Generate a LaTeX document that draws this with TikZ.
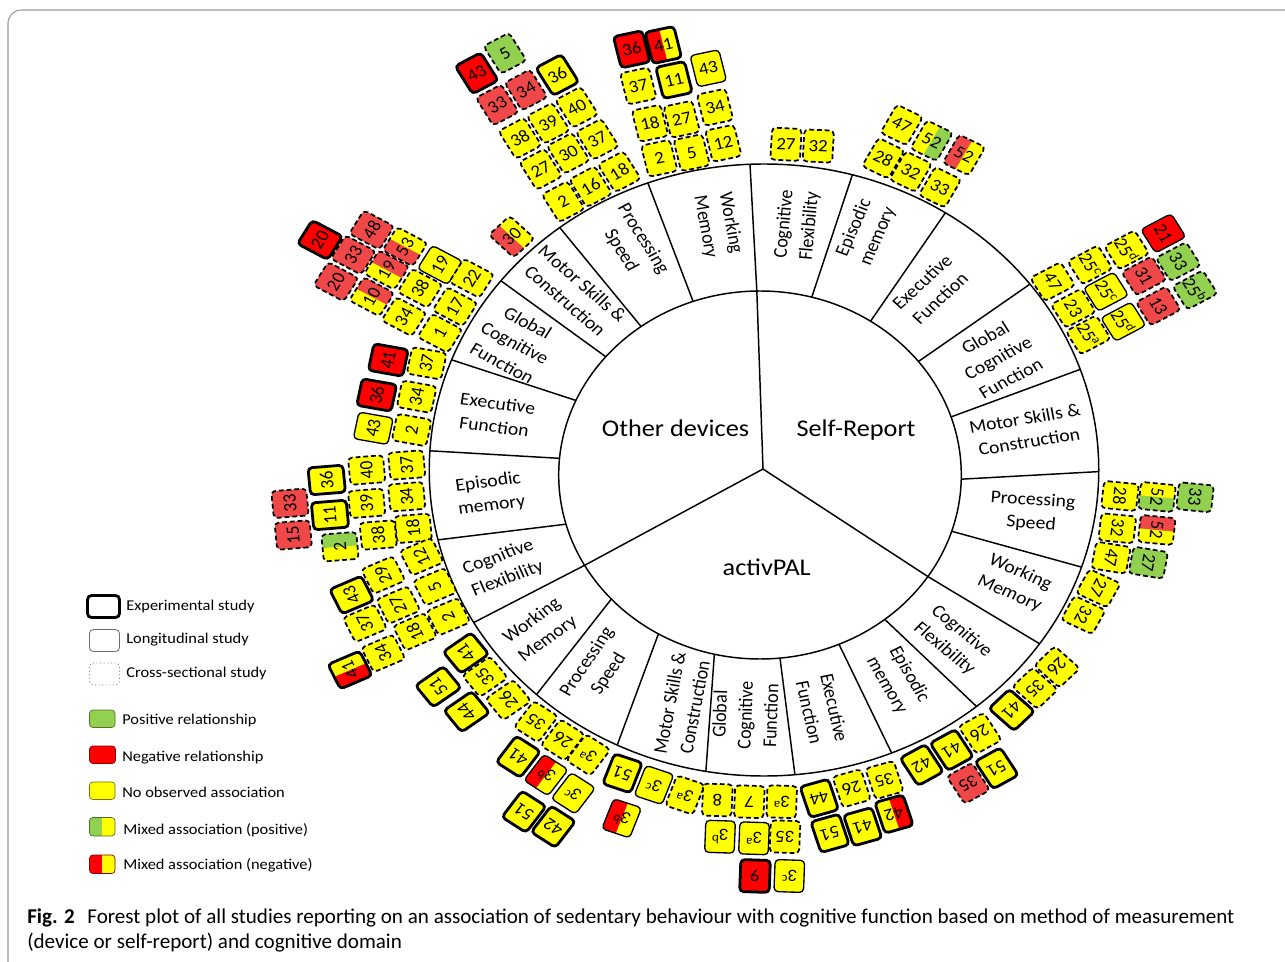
\documentclass[tikz,border=0pt]{standalone}
\usepackage{fontspec}
\setmainfont{Carlito}
\usetikzlibrary{calc}
\definecolor{yy}{HTML}{FFFF00}
\definecolor{rr}{HTML}{FF0000}
\definecolor{lr}{HTML}{F04848}
\definecolor{gg}{HTML}{92D050}
\definecolor{fr}{HTML}{9A9A9A}
\newcounter{bxn}
\newcounter{rln}
\tikzset{
 ex/.style={line width=2.1pt},
 lo/.style={line width=1pt},
 cs/.style={line width=1.3pt, dash pattern=on 3.6pt off 2.2pt},
 btext/.style={inner sep=0pt, font=\fontsize{13}{14}\selectfont, transform shape},
 rlab/.style={align=center, inner sep=0pt, font=\fontsize{13.5}{17.5}\selectfont, transform shape},
 clab/.style={inner sep=0pt, font=\fontsize{18}{20}\selectfont, transform shape},
 ltext/.style={anchor=base west, inner sep=0pt, font=\fontsize{11.25}{13}\selectfont, xscale=1.094, transform shape},
 captext/.style={anchor=base west, inner sep=0pt, font=\fontsize{15.8}{18}\selectfont},
 ring/.style={line width=1.1pt},
}
\newcommand\studybox[7]{%
 \stepcounter{bxn}%
 \begin{scope}[shift={({(#1-764)/1.094},{470-#2})},rotate=#3]
  \begin{scope}
   \clip[rounded corners=3pt] (-13.5,-16) rectangle (13.5,16);
   \fill[#5] (-14,-17) rectangle (0.6,17);
   \fill[#6] (0,-17) rectangle (14,17);
  \end{scope}
  \draw[#4,rounded corners=3pt] (-13.5,-16) rectangle (13.5,16);
  \node[btext] (box\arabic{bxn}) at (0,0) {#7};
 \end{scope}}
\newcommand\ringlabel[4]{%
 \stepcounter{rln}%
 \node[rlab, rotate=#3] (rl\arabic{rln}) at ({(#1-764)/1.094},{470-#2}) {#4};}
\newcommand\sps[2]{#1\textsuperscript{#2}}
\begin{document}
\begin{tikzpicture}[x=0.75pt,y=0.75pt]
\useasboundingbox (0,0) rectangle (1285,-962);
\fill[white] (0,0) rectangle (1285,-962);
% frame
\draw[fr, line width=0.8pt, rounded corners=10pt] (1300,-10) -- (8,-10) -- (8,-975);

\begin{scope}[shift={(764,-470)}, xscale=1.094, transform shape]
 % circles
 \coordinate (oc) at (0,0);
 \coordinate (ic) at (-3.66,-5);
 \coordinate (c0) at (-0.9,1);
 \draw[ring] (oc) circle (306);
 \draw[ring] (ic) circle (184);
 % ring lines
 \foreach \n/\ai/\ao in {a/90.9/92.4, b/75.1/74.7, c/56.7/57.2, d/38.1/37.4, e/18.4/19.2, f/-1.3/-0.3, g/-17.8/-18.5, h/-33.5/-34.6, i/-51.7/-50.6, j/-66.9/-67.6, k/-84.3/-84.7, l/256.9/260, m/239.7/244, n/222.4/227.2, o/209.4/209.9, p/195.5/193.2, q/174.8/176.4, r/156.1/158.9, s/140/141.8, t/126.2/127.6, u/109.4/110.3}{
  \coordinate (I\n) at ($(ic)+(\ai:184)$);
  \coordinate (O\n) at (\ao:306);
  \draw[ring] (I\n) -- (O\n);
 }
 \draw[ring] (c0) -- (Ia);
 \draw[ring] (c0) -- (Ih);
 \draw[ring] (c0) -- (Io);
 % centre labels
 \node[clab, anchor=base] (od) at ({(675.5-764)/1.094},{470-436}) {Other devices};
 \node[clab, anchor=base] (sr) at ({(856-764)/1.094},{470-436}) {Self-Report};
 \node[clab, anchor=base] (ap) at ({(766.7-764)/1.094},{470-575}) {activPAL};
 % ring labels: other devices
 \ringlabel{718}{225}{-80}{Working\\Memory}
 \ringlabel{632}{245}{-60}{Processing\\Speed}
 \ringlabel{574}{292}{-43}{Motor Skills \&\\Construction}
 \ringlabel{515}{343}{-30}{Global\\Cognitive\\Function}
 \ringlabel{496}{415}{-8}{Executive\\Function}
 \ringlabel{490}{494}{8}{Episodic\\memory}
 \ringlabel{503}{568}{22}{Cognitive\\Flexibility}
 % activPAL
 \ringlabel{540}{630}{38}{Working\\Memory}
 \ringlabel{598}{668}{58}{Processing\\Speed}
 \ringlabel{682}{705}{80}{Motor Skills \&\\Construction}
 \ringlabel{745}{715}{88}{Global\\Cognitive\\Function}
 \ringlabel{822}{710}{-78}{Executive\\Function}
 \ringlabel{898}{680}{-62}{Episodic\\memory}
 \ringlabel{953}{640}{-42}{Cognitive\\Flexibility}
 % self-report
 \ringlabel{1015}{583}{-25}{Working\\Memory}
 \ringlabel{1032}{512}{-4}{Processing\\Speed}
 \ringlabel{1027}{430}{10}{Motor Skills \&\\Construction}
 \ringlabel{998}{358}{30}{Global\\Cognitive\\Function}
 \ringlabel{931}{290}{45}{Executive\\Function}
 \ringlabel{866}{232}{68}{Episodic\\memory}
 \ringlabel{797}{225}{85}{Cognitive\\Flexibility}

 % ---- boxes: Other devices, Working Memory
 \studybox{631.7}{49.3}{13}{ex}{rr}{rr}{36}
 \studybox{663.3}{45}{13}{ex}{rr}{yy}{41}
 \studybox{638.3}{86}{13}{cs}{yy}{yy}{37}
 \studybox{674}{80}{13}{ex}{yy}{yy}{11}
 \studybox{708.3}{68.3}{13}{lo}{yy}{yy}{43}
 \studybox{650}{123.3}{13}{cs}{yy}{yy}{18}
 \studybox{681.7}{119.3}{13}{cs}{yy}{yy}{27}
 \studybox{715}{107.3}{13}{cs}{yy}{yy}{34}
 \studybox{659.3}{158.3}{13}{cs}{yy}{yy}{2}
 \studybox{691.7}{152.7}{13}{cs}{yy}{yy}{5}
 \studybox{723.3}{143.3}{13}{cs}{yy}{yy}{12}
 % Processing Speed
 \studybox{476.7}{73.3}{30}{ex}{rr}{rr}{43}
 \studybox{505}{53.3}{30}{cs}{gg}{gg}{5}
 \studybox{497.3}{105}{30}{cs}{lr}{lr}{33}
 \studybox{526}{90}{30}{cs}{lr}{lr}{34}
 \studybox{557.3}{75}{30}{ex}{yy}{yy}{36}
 \studybox{520}{138.3}{30}{cs}{yy}{yy}{38}
 \studybox{548.3}{123.3}{30}{cs}{yy}{yy}{39}
 \studybox{576.7}{107.3}{30}{cs}{yy}{yy}{40}
 \studybox{540.7}{169.3}{30}{cs}{yy}{yy}{27}
 \studybox{568.3}{153.3}{30}{cs}{yy}{yy}{30}
 \studybox{597.3}{139.3}{30}{cs}{yy}{yy}{37}
 \studybox{563.3}{201.7}{30}{cs}{yy}{yy}{2}
 \studybox{590.7}{186.7}{30}{cs}{yy}{yy}{16}
 \studybox{619.3}{171.7}{30}{cs}{yy}{yy}{18}
 % Motor skills
 \studybox{511.7}{236.7}{45}{cs}{lr}{yy}{30}
 % Global cognitive function
 \studybox{320}{240}{60}{ex}{rr}{rr}{20}
 \studybox{371.7}{230}{60}{cs}{lr}{lr}{48}
 \studybox{353.3}{255}{60}{cs}{lr}{lr}{33}
 \studybox{405}{246.7}{60}{cs}{lr}{yy}{53}
 \studybox{386.7}{270}{60}{cs}{yy}{lr}{19}
 \studybox{336}{281.7}{60}{cs}{lr}{lr}{20}
 \studybox{440}{265}{60}{lo}{yy}{yy}{19}
 \studybox{371.7}{296.7}{60}{cs}{yy}{lr}{10}
 \studybox{420}{288.3}{60}{cs}{yy}{yy}{38}
 \studybox{471.7}{278.3}{60}{cs}{yy}{yy}{22}
 \studybox{404}{316.7}{60}{cs}{yy}{yy}{34}
 \studybox{455}{306.7}{60}{cs}{yy}{yy}{17}
 \studybox{440}{333.3}{60}{cs}{yy}{yy}{1}
 % Executive function
 \studybox{388.3}{360}{79}{ex}{rr}{rr}{41}
 \studybox{426.7}{363.3}{79}{cs}{yy}{yy}{37}
 \studybox{376.7}{395}{79}{ex}{rr}{rr}{36}
 \studybox{416.7}{396.7}{79}{cs}{yy}{yy}{34}
 \studybox{373.3}{428.3}{79}{lo}{yy}{yy}{43}
 \studybox{411.7}{430}{79}{cs}{yy}{yy}{2}
 % Episodic memory
 \studybox{406.7}{465}{95}{cs}{yy}{yy}{37}
 \studybox{366.7}{470}{95}{cs}{yy}{yy}{40}
 \studybox{326.7}{480}{95}{ex}{yy}{yy}{36}
 \studybox{406.7}{496.7}{95}{cs}{yy}{yy}{34}
 \studybox{366.7}{503.3}{95}{cs}{yy}{yy}{39}
 \studybox{330}{515}{95}{ex}{yy}{yy}{11}
 \studybox{290}{503.3}{95}{cs}{lr}{lr}{33}
 \studybox{413.3}{528.3}{95}{cs}{yy}{yy}{18}
 \studybox{378.3}{535}{95}{cs}{yy}{yy}{38}
 \studybox{293.3}{535}{95}{cs}{lr}{lr}{15}
 \studybox{340}{546.7}{95}{cs}{yy}{gg}{2}
 % Cognitive flexibility
 \studybox{421.7}{556.7}{115}{cs}{yy}{yy}{12}
 \studybox{383.3}{575}{115}{cs}{yy}{yy}{29}
 \studybox{435}{586.7}{115}{cs}{yy}{yy}{5}
 \studybox{351.7}{595}{115}{ex}{yy}{yy}{43}
 \studybox{398.3}{605}{115}{cs}{yy}{yy}{27}
 \studybox{448.3}{616.7}{115}{cs}{yy}{yy}{2}
 \studybox{365}{623.3}{115}{cs}{yy}{yy}{37}
 \studybox{415}{631.7}{115}{cs}{yy}{yy}{18}
 \studybox{383.3}{653.3}{115}{cs}{yy}{yy}{34}
 \studybox{350}{670}{115}{ex}{rr}{yy}{41}
 % ---- activPAL, Working Memory
 \studybox{466}{653}{127}{ex}{yy}{yy}{41}
 \studybox{485}{676.7}{127}{cs}{yy}{yy}{35}
 \studybox{438.3}{686.7}{127}{ex}{yy}{yy}{51}
 \studybox{508.3}{700}{127}{cs}{yy}{yy}{26}
 \studybox{466.7}{711.7}{127}{ex}{yy}{yy}{44}
 % Processing speed
 \studybox{536}{721.7}{145}{cs}{yy}{yy}{35}
 \studybox{562.7}{740}{145}{cs}{yy}{yy}{26}
 \studybox{588.3}{755}{145}{cs}{yy}{yy}{\sps{3}{a}}
 \studybox{518.3}{756.7}{145}{ex}{yy}{yy}{41}
 \studybox{546}{775}{145}{lo}{yy}{rr}{\sps{3}{b}}
 \studybox{573.3}{793.3}{145}{lo}{yy}{yy}{\sps{3}{c}}
 \studybox{524}{811.7}{145}{ex}{yy}{yy}{51}
 \studybox{553.3}{826.7}{145}{ex}{yy}{yy}{42}
 % Motor skills
 \studybox{622.5}{773.3}{160}{ex}{yy}{yy}{51}
 \studybox{654}{785}{160}{lo}{yy}{yy}{\sps{3}{c}}
 \studybox{621.7}{818.3}{160}{lo}{yy}{rr}{\sps{3}{b}}
 \studybox{685}{795}{160}{cs}{yy}{yy}{\sps{3}{a}}
 % Global cognitive function
 \studybox{717.3}{800}{178}{cs}{yy}{yy}{8}
 \studybox{749.3}{801.7}{178}{cs}{yy}{yy}{7}
 \studybox{781.7}{801.7}{178}{cs}{yy}{yy}{\sps{3}{a}}
 \studybox{720}{836.7}{178}{lo}{yy}{yy}{\sps{3}{b}}
 \studybox{754}{838.3}{178}{lo}{yy}{yy}{\sps{3}{a}}
 \studybox{785}{836.7}{178}{cs}{yy}{yy}{35}
 \studybox{755}{876}{178}{ex}{rr}{rr}{9}
 \studybox{789.3}{876}{178}{lo}{yy}{yy}{\sps{3}{c}}
 % Executive function
 \studybox{819.3}{798.3}{197}{ex}{yy}{yy}{44}
 \studybox{851.7}{788.3}{197}{cs}{yy}{yy}{26}
 \studybox{884.5}{780}{197}{cs}{yy}{yy}{35}
 \studybox{830}{833.3}{197}{ex}{yy}{yy}{51}
 \studybox{862.7}{826.7}{197}{ex}{yy}{yy}{41}
 \studybox{894}{814}{197}{ex}{rr}{yy}{42}
 % Episodic memory
 \studybox{921.7}{765}{211}{ex}{yy}{yy}{42}
 \studybox{951.7}{750}{211}{ex}{yy}{yy}{41}
 \studybox{980}{733.3}{211}{cs}{yy}{yy}{26}
 \studybox{996.7}{768.3}{211}{ex}{yy}{yy}{51}
 \studybox{968.3}{783.3}{211}{cs}{lr}{lr}{35}
 % Cognitive flexibility
 \studybox{1011.7}{710}{226}{ex}{yy}{yy}{41}
 \studybox{1035}{688.3}{226}{cs}{yy}{yy}{35}
 \studybox{1057}{667}{226}{cs}{yy}{yy}{26}
 % ---- Self-report, Working Memory
 \studybox{1098.3}{588.3}{-117}{cs}{yy}{yy}{27}
 \studybox{1083.3}{615}{-117}{cs}{yy}{yy}{32}
 % Processing speed
 \studybox{1120}{496}{-96}{cs}{yy}{yy}{28}
 \studybox{1157}{497}{-96}{cs}{yy}{gg}{52}
 \studybox{1195}{497.3}{-96}{cs}{gg}{gg}{33}
 \studybox{1117.3}{528.3}{-96}{cs}{yy}{yy}{32}
 \studybox{1156.7}{530}{-96}{cs}{lr}{yy}{52}
 \studybox{1111}{557.7}{-100}{cs}{yy}{yy}{47}
 \studybox{1148.3}{562.7}{-100}{cs}{gg}{gg}{27}
 % Global cognitive function
 \studybox{1163.3}{233.3}{-60}{lo}{rr}{rr}{21}
 \studybox{1126.7}{250}{-60}{cs}{yy}{yy}{\sps{25}{d}}
 \studybox{1178.3}{261.7}{-60}{cs}{gg}{gg}{33}
 \studybox{1090}{265}{-60}{cs}{yy}{yy}{\sps{25}{c}}
 \studybox{1144}{276}{-60}{cs}{lr}{lr}{31}
 \studybox{1195}{290}{-60}{cs}{gg}{gg}{\sps{25}{b}}
 \studybox{1052.7}{281.7}{-60}{cs}{yy}{yy}{47}
 \studybox{1106}{291.7}{-60}{lo}{yy}{yy}{\sps{25}{c}}
 \studybox{1158.3}{306}{-60}{cs}{lr}{lr}{13}
 \studybox{1073.3}{308.3}{-60}{cs}{yy}{yy}{23}
 \studybox{1123.3}{321.7}{-60}{lo}{yy}{yy}{\sps{25}{d}}
 \studybox{1088.3}{335}{-60}{cs}{yy}{yy}{\sps{25}{a}}
 % Episodic memory
 \studybox{901.7}{125}{-28}{cs}{yy}{yy}{47}
 \studybox{931.7}{140.7}{-28}{cs}{yy}{gg}{52}
 \studybox{964}{155}{-28}{cs}{lr}{yy}{52}
 \studybox{883.3}{158.3}{-28}{cs}{yy}{yy}{28}
 \studybox{910.7}{171.7}{-28}{cs}{yy}{yy}{32}
 \studybox{940}{187.3}{-28}{cs}{yy}{yy}{33}
 % Cognitive flexibility
 \studybox{786}{144.3}{-3}{cs}{yy}{yy}{27}
 \studybox{818.3}{146}{-3}{cs}{yy}{yy}{32}
\end{scope}

% ---- legend
\draw[line width=2.1pt, rounded corners=3pt] (87.5,-595.5) rectangle (119.5,-617.5);
\draw[fr!70!black, line width=0.6pt, rounded corners=3pt] (89.5,-629.5) rectangle (119.5,-651.5);
\draw[fr!80!black, line width=0.7pt, dotted, rounded corners=3pt] (89.5,-663) rectangle (119.5,-685);
\filldraw[fill=gg, draw=gg!55!black, line width=0.5pt, rounded corners=2.5pt] (89.5,-710) rectangle (115,-727.5);
\filldraw[fill=rr, draw=rr!55!black, line width=0.5pt, rounded corners=2.5pt] (89.5,-746) rectangle (115.5,-763.5);
\filldraw[fill=yy, draw=yy!45!black, line width=0.5pt, rounded corners=2.5pt] (89.5,-782) rectangle (115,-799.5);
\begin{scope}
 \clip[rounded corners=2.5pt] (89.5,-817.5) rectangle (115,-836);
 \fill[gg] (89.5,-817.5) rectangle (102.5,-836);
 \fill[yy] (102.3,-817.5) rectangle (115,-836);
\end{scope}
\draw[gg!50!black, line width=0.5pt, rounded corners=2.5pt] (89.5,-817.5) rectangle (115,-836);
\begin{scope}
 \clip[rounded corners=2.5pt] (89.5,-855) rectangle (115,-873.5);
 \fill[rr] (89.5,-855) rectangle (102.5,-873.5);
 \fill[yy] (102.3,-855) rectangle (115,-873.5);
\end{scope}
\draw[rr!50!black, line width=0.5pt, rounded corners=2.5pt] (89.5,-855) rectangle (115,-873.5);
\node[ltext] (lg1) at (126,-610) {Experimental study};
\node[ltext] (lg2) at (126,-643) {Longitudinal study};
\node[ltext] (lg3) at (126,-677) {Cross-sectional study};
\node[ltext] (lg4) at (122,-724) {Positive relationship};
\node[ltext] (lg5) at (122,-761) {Negative relationship};
\node[ltext] (lg6) at (122,-797) {No observed association};
\node[ltext] (lg7) at (123,-834) {Mixed association (positive)};
\node[ltext] (lg8) at (123,-869) {Mixed association (negative)};

% ---- caption
\node[captext] (cap1) at (27,-923)
 {\textbf{Fig. 2}\hspace{0.6em}Forest plot of all studies reporting on an association of sedentary behaviour with cognitive function based on method of measurement};
\node[captext] (cap2) at (27,-948)
 {(device or self-report) and cognitive domain};
\end{tikzpicture}
\end{document}
